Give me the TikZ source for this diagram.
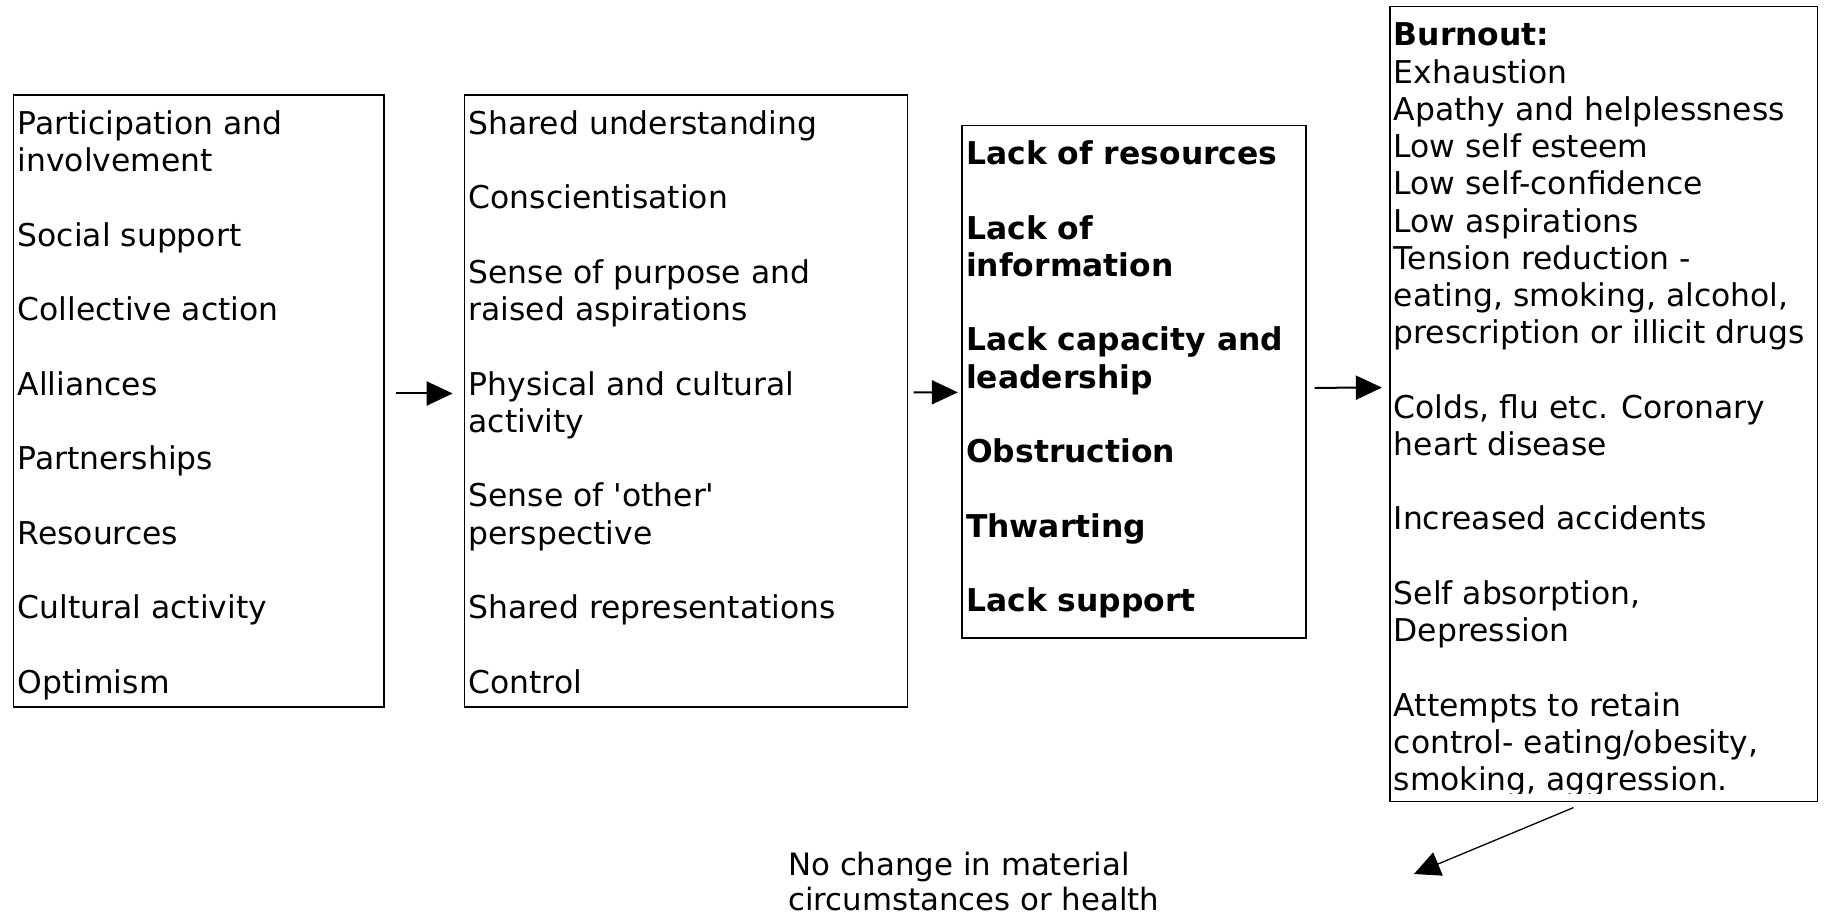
\documentclass[tikz,border=0pt]{standalone}
\usepackage{fontspec}
\setmainfont{DejaVu Sans}[Ligatures=TeXOff]
\usetikzlibrary{arrows.meta,calc}
\tikzset{
  box/.style={draw=black, line width=0.8pt, anchor=north west, inner sep=0pt},
  txt/.style={anchor=north west, inner sep=0pt, align=left, font=\fontsize{15.7}{18.62}\selectfont},
  btxt/.style={anchor=north west, inner sep=0pt, align=left, font=\fontsize{15.7}{18.62}\selectfont\bfseries},
  arr/.style={line width=1pt, -{Triangle[length=13pt,width=12pt]}},
  thinarr/.style={line width=0.65pt, -{Triangle[length=13pt,width=12.5pt]}}
}
\newcommand{\gp}{\\[18.62pt]}
\begin{document}
\begin{tikzpicture}[x=0.5pt,y=-0.5pt]
\useasboundingbox[fill=white] (0,0) rectangle (1827,914);
% boxes
\node[box, minimum width=185.25pt, minimum height=305.8pt] (b1) at (12.8,94.4) {};
\node[box, minimum width=221.4pt, minimum height=305.8pt] (b2) at (463.7,94.4) {};
\node[box, minimum width=171.85pt, minimum height=256.35pt] (b3) at (961.3,124.7) {};
\node[box, minimum width=213.8pt, minimum height=397.35pt] (b4) at (1388.9,5.8) {};
% texts
\node[txt] (t1) at ([shift={(4.5,14.5)}]b1.north west) {\rule{0pt}{0.8em}Participation and\\involvement\gp Social support\gp Collective action\gp Alliances\gp Partnerships\gp Resources\gp Cultural activity\gp Optimism};
\node[txt] (t2) at ([shift={(4.5,14.5)}]b2.north west) {\rule{0pt}{0.8em}Shared understanding\gp Conscientisation\gp Sense of purpose and\\raised aspirations\gp Physical and cultural\\activity\gp Sense of 'other'\\perspective\gp Shared representations\gp Control};
\node[btxt] (t3) at ([shift={(4.5,14.5)}]b3.north west) {\rule{0pt}{0.8em}Lack of resources\gp Lack of\\information\gp Lack capacity and\\leadership\gp Obstruction\gp Thwarting\gp Lack support};
\begin{scope}
\clip (b4.north west) rectangle ([shift={(0,-8.5)}]b4.south east);
\node[txt] (t4) at ([shift={(4.5,14.5)}]b4.north west) {\rule{0pt}{0.8em}\textbf{Burnout:}\\Exhaustion\\Apathy and helplessness\\Low self esteem\\Low self-confidence\\Low aspirations\\Tension reduction -\\eating, smoking, alcohol,\\prescription or illicit drugs\gp Colds, flu etc. Coronary\\heart disease\gp Increased accidents\gp Self absorption,\\Depression\gp Attempts to retain\\control- eating/obesity,\\smoking, aggression.};
\end{scope}
\node[anchor=north west, inner sep=0pt, align=left, font=\fontsize{15.4}{17.65}\selectfont] (nc) at (788,850) {\rule{0pt}{0.8em}No change in material\\circumstances or health};
% connectors
\draw[arr] ($(b1.east)+(10.7,-7.5)$) -- ($(b2.west)+(-11,-7.5)$);
\draw[arr] ($(b2.east)+(5.5,-8.7)$) -- ($(b3.west)+(-3.5,10.5)$);
\draw[arr] ($(b3.east)+(8,6)$) -- ($(b4.west)+(-7,-16.4)$);
\coordinate (tip) at (1414,874);
\draw[thinarr] ($(b4.south)+(-30,5.5)$) -- (tip);
\end{tikzpicture}
\end{document}
